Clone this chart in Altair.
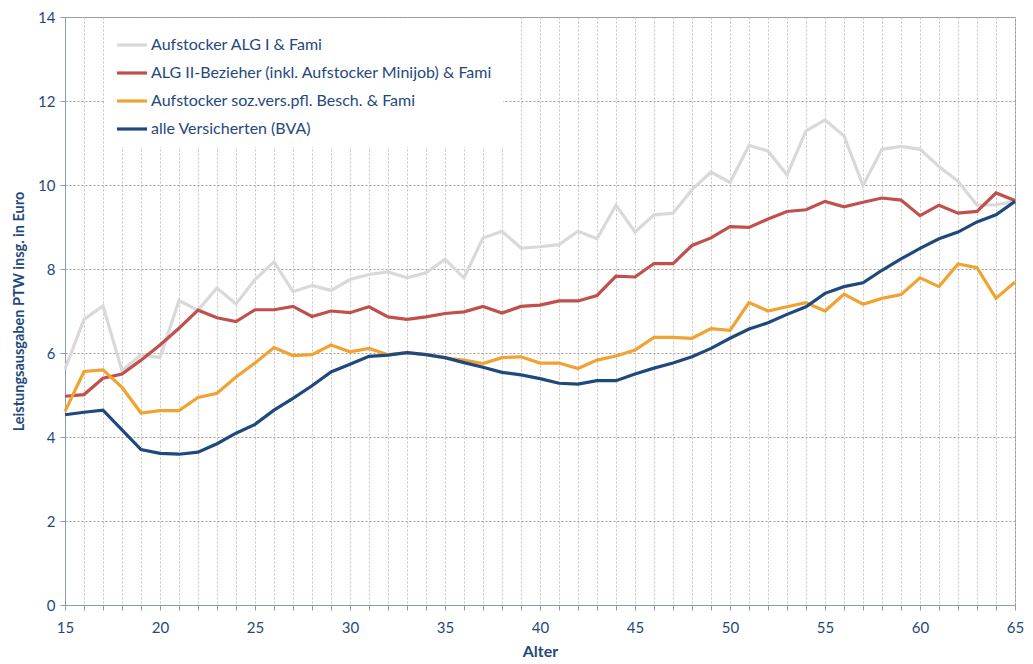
import altair as alt
import pandas as pd

ages = list(range(15, 66))

series_names = [
    "Aufstocker ALG I & Fami",
    "ALG II-Bezieher (inkl. Aufstocker Minijob) & Fami",
    "Aufstocker soz.vers.pfl. Besch. & Fami",
    "alle Versicherten (BVA)",
]
series_colors = ["#D9D9D9", "#C0504D", "#F0A232", "#1F497D"]

alg1 = [5.62, 6.80, 7.12, 5.58, 5.96, 5.89, 7.25, 7.02, 7.55, 7.17,
        7.75, 8.17, 7.46, 7.61, 7.49, 7.75, 7.87, 7.93, 7.79, 7.91,
        8.23, 7.79, 8.74, 8.90, 8.50, 8.53, 8.58, 8.90, 8.72, 9.52,
        8.88, 9.29, 9.33, 9.89, 10.31, 10.06, 10.94, 10.81, 10.24, 11.29,
        11.55, 11.17, 9.99, 10.85, 10.92, 10.85, 10.44, 10.09, 9.52, 9.53, 9.61]
alg2 = [4.97, 5.01, 5.40, 5.50, 5.83, 6.19, 6.59, 7.02, 6.84, 6.75,
        7.03, 7.03, 7.11, 6.87, 7.00, 6.96, 7.10, 6.86, 6.80, 6.86,
        6.94, 6.98, 7.11, 6.95, 7.11, 7.14, 7.24, 7.24, 7.37, 7.83,
        7.81, 8.13, 8.13, 8.56, 8.74, 9.01, 8.99, 9.19, 9.37, 9.41,
        9.61, 9.48, 9.59, 9.69, 9.64, 9.27, 9.52, 9.33, 9.37, 9.81, 9.63]
sozv = [4.61, 5.56, 5.60, 5.18, 4.57, 4.63, 4.63, 4.94, 5.04, 5.43,
        5.76, 6.13, 5.94, 5.96, 6.19, 6.03, 6.11, 5.96, 6.01, 5.96,
        5.88, 5.83, 5.75, 5.89, 5.91, 5.76, 5.76, 5.63, 5.83, 5.93,
        6.07, 6.37, 6.37, 6.35, 6.58, 6.54, 7.20, 7.00, 7.10, 7.20,
        7.00, 7.40, 7.16, 7.30, 7.39, 7.79, 7.58, 8.12, 8.03, 7.30, 7.69]
bva = [4.53, 4.59, 4.64, 4.17, 3.70, 3.61, 3.59, 3.64, 3.84, 4.09,
       4.30, 4.64, 4.92, 5.22, 5.55, 5.73, 5.92, 5.95, 6.01, 5.96,
       5.89, 5.77, 5.66, 5.54, 5.48, 5.39, 5.28, 5.26, 5.34, 5.34,
       5.50, 5.64, 5.76, 5.91, 6.11, 6.35, 6.57, 6.72, 6.92, 7.10,
       7.42, 7.58, 7.67, 7.97, 8.24, 8.49, 8.72, 8.88, 9.12, 9.29, 9.61]

rows = []
for i, (name, vals) in enumerate(zip(series_names, [alg1, alg2, sozv, bva])):
    for a, v in zip(ages, vals):
        rows.append({"Alter": a, "Wert": v, "Gruppe": name, "ord": i})
df = pd.DataFrame(rows)

FONT = "Lato"
TXT = "#1F497D"

chart = alt.Chart(df).mark_line(strokeWidth=3.2).encode(
    x=alt.X("Alter:Q",
            scale=alt.Scale(domain=[15, 65], nice=False, zero=False),
            axis=alt.Axis(values=ages, labelExpr="datum.value % 5 === 0 ? datum.label : ''",
                          title="Alter", grid=True, gridColor="#C9C2BB", gridDash=[2, 2],
                          gridWidth=1, gridOpacity=1, tickSize=5, tickColor="#8C9AB5",
                          domainColor="#8C9AB5",
                          labelFont=FONT, labelFontSize=15, labelColor=TXT, labelPadding=10,
                          titleFont=FONT, titleFontSize=16, titleFontWeight="bold",
                          titleColor=TXT, titlePadding=8, labelFlush=False)),
    y=alt.Y("Wert:Q",
            scale=alt.Scale(domain=[0, 14], nice=False),
            axis=alt.Axis(values=[0, 2, 4, 6, 8, 10, 12, 14],
                          title="Leistungsausgaben PTW insg. in Euro", grid=True,
                          gridColor="#A89F96", gridDash=[2, 2], gridWidth=1, gridOpacity=1,
                          tickSize=5, tickColor="#8C9AB5", domainColor="#8C9AB5",
                          labelFont=FONT, labelFontSize=15, labelColor=TXT, labelPadding=5,
                          titleFont=FONT, titleFontSize=14.5, titleFontWeight="bold",
                          titleColor=TXT, titlePadding=11)),
    color=alt.Color("Gruppe:N",
                    scale=alt.Scale(domain=series_names, range=series_colors),
                    legend=alt.Legend(title=None, orient="none", legendX=40, legendY=1,
                                      symbolType="stroke", symbolStrokeWidth=3.2,
                                      symbolSize=900, labelFont=FONT, labelFontSize=16,
                                      labelColor=TXT, rowPadding=3, labelOffset=2,
                                      fillColor="white", padding=10, labelLimit=500)),
    order=alt.Order("ord:Q"),
).properties(
    width=950, height=588,
    padding={"left": 57, "top": 9, "right": 10, "bottom": 56},
    autosize=alt.AutoSizeParams(type="none"),
).configure_view(stroke="#9098A8", strokeWidth=1)

chart.save("out.html", embed_options={"renderer": "svg", "actions": False})
